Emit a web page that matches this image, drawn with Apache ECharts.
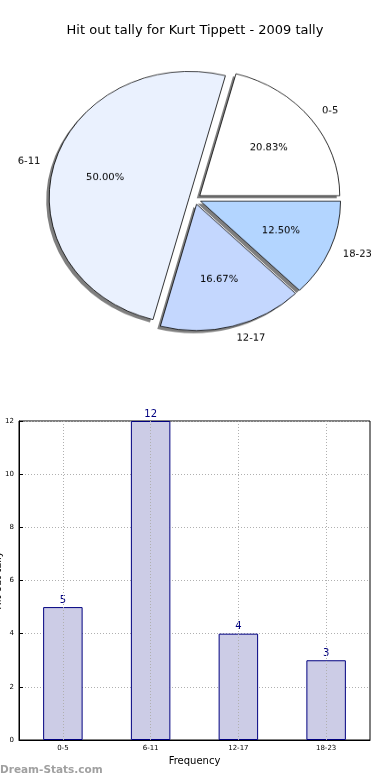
<!DOCTYPE html>
<html>
<head>
<meta charset="utf-8">
<script src="https://cdn.jsdelivr.net/npm/echarts@6/dist/echarts.min.js"></script>
<style>
html,body{margin:0;padding:0;background:#fff;}
#main{position:absolute;left:0;top:0;width:390px;height:780px;}
#pie{position:absolute;left:0;top:0;width:390px;height:400px;transform:scaleY(0.902);transform-origin:195px 199px;pointer-events:none;}
</style>
</head>
<body>
<div id="main"></div>
<div id="pie"></div>
<script>
const titleText = 'Hit out tally for Kurt Tippett - 2009 tally';
const categories = ['0-5', '6-11', '12-17', '18-23'];
const tallies = [5, 12, 4, 3];
const pieColors = ['#ffffff', '#eaf1fe', '#c4d7fe', '#b3d5ff'];
const yTicks = [0, 2, 4, 6, 8, 10, 12];
const xAxisName = 'Frequency';
const yAxisName = 'Hit out tally';
const watermark = 'Dream-Stats.com';

const FONT = 'DejaVu Sans';

const main = echarts.init(document.getElementById('main'), null, {renderer: 'canvas'});
main.setOption({
  animation: false,
  backgroundColor: '#fff',
  title: {
    text: titleText, left: 'center', top: 19,
    textStyle: {fontFamily: FONT, fontSize: 13, fontWeight: 'normal', color: '#000'}
  },
  graphic: [{
    type: 'text', left: 0, top: 765,
    style: {text: watermark, fontFamily: FONT, fontSize: 10.5, fontWeight: 'bold', fill: '#a0a0a0'}
  }],
  grid: {left: 19, right: 20, top: 421, bottom: 40, containLabel: false, outerBoundsMode: 'none',
    show: true, borderColor: '#000', borderWidth: 1, backgroundColor: 'transparent'},
  xAxis: {
    type: 'category', data: categories,
    name: xAxisName, nameLocation: 'middle', nameGap: 16, nameMoveOverlap: false,
    nameTextStyle: {fontFamily: FONT, fontSize: 10, color: '#000'},
    axisLine: {show: true, lineStyle: {color: '#000'}},
    axisTick: {show: false},
    axisLabel: {fontFamily: FONT, fontSize: 7, color: '#000', margin: 5},
    splitLine: {show: false}
  },
  yAxis: {
    type: 'value', min: yTicks[0], max: yTicks[yTicks.length - 1], interval: 2,
    name: yAxisName, nameLocation: 'middle', nameGap: 16, nameRotate: 90, nameMoveOverlap: false,
    nameTextStyle: {fontFamily: FONT, fontSize: 10, color: '#000'},
    axisLine: {show: true, lineStyle: {color: '#000'}},
    axisTick: {show: true, inside: true, length: 4, lineStyle: {color: '#000'}},
    axisLabel: {fontFamily: FONT, fontSize: 7, color: '#000', margin: 5},
    splitLine: {show: true, lineStyle: {color: '#b0b0b0', type: [1, 2], width: 1}}
  },
  series: [{
    type: 'bar', data: tallies, barWidth: '45%',
    itemStyle: {color: '#ccccE6', borderColor: '#000080', borderWidth: 1},
    label: {show: true, position: 'top', distance: 2, fontFamily: FONT, fontSize: 10, color: '#000080'},
    emphasis: {disabled: true},
    markLine: {
      silent: true, symbol: 'none', label: {show: false},
      lineStyle: {color: '#b0b0b0', type: [1, 2], width: 1},
      data: categories.map(c => ({xAxis: c}))
    },
    z: 2
  }]
});

const pieR = 140;
const pieCenter = [195, 199];
const shadowCenter = [pieCenter[0] - 3, pieCenter[1] + 3];
const total = tallies.reduce((a, b) => a + b, 0);
const pie = echarts.init(document.getElementById('pie'), null, {renderer: 'canvas'});
pie.setOption({
  animation: false,
  series: [{
    type: 'pie', center: shadowCenter, radius: [0, pieR], startAngle: 0, clockwise: false,
    selectedMode: 'multiple', selectedOffset: 6, avoidLabelOverlap: false, silent: true,
    data: categories.map((c, i) => ({name: c, value: tallies[i], selected: true})),
    itemStyle: {color: 'rgba(0,0,0,0.5)', borderWidth: 0},
    label: {show: false}, labelLine: {show: false},
    emphasis: {disabled: true}, z: 1
  }, {
    type: 'pie', center: pieCenter, radius: [0, pieR], startAngle: 0, clockwise: false,
    selectedMode: 'multiple', selectedOffset: 6, avoidLabelOverlap: false, silent: true,
    data: categories.map((c, i) => ({name: c, value: tallies[i], selected: true, itemStyle: {color: pieColors[i]}})),
    itemStyle: {borderColor: '#000', borderWidth: 0.8},
    label: {show: true, position: 'outside', formatter: '{b}', distanceToLabelLine: 0,
      fontFamily: FONT, fontSize: 10, color: '#000'},
    labelLine: {show: false, length: 14, length2: 0},
    emphasis: {disabled: true}, z: 2
  }, {
    type: 'pie', center: pieCenter, radius: [0, pieR * 1.2], startAngle: 0, clockwise: false,
    selectedMode: 'multiple', selectedOffset: 6, avoidLabelOverlap: false, silent: true,
    data: categories.map((c, i) => ({name: c, value: tallies[i], selected: true})),
    itemStyle: {color: 'rgba(0,0,0,0)', borderWidth: 0},
    label: {show: true, position: 'inside', formatter: p => (p.value / total * 100).toFixed(2) + '%',
      fontFamily: FONT, fontSize: 10, color: '#000'},
    labelLine: {show: false},
    emphasis: {disabled: true},
    z: 5
  }]
});
</script>
</body>
</html>
